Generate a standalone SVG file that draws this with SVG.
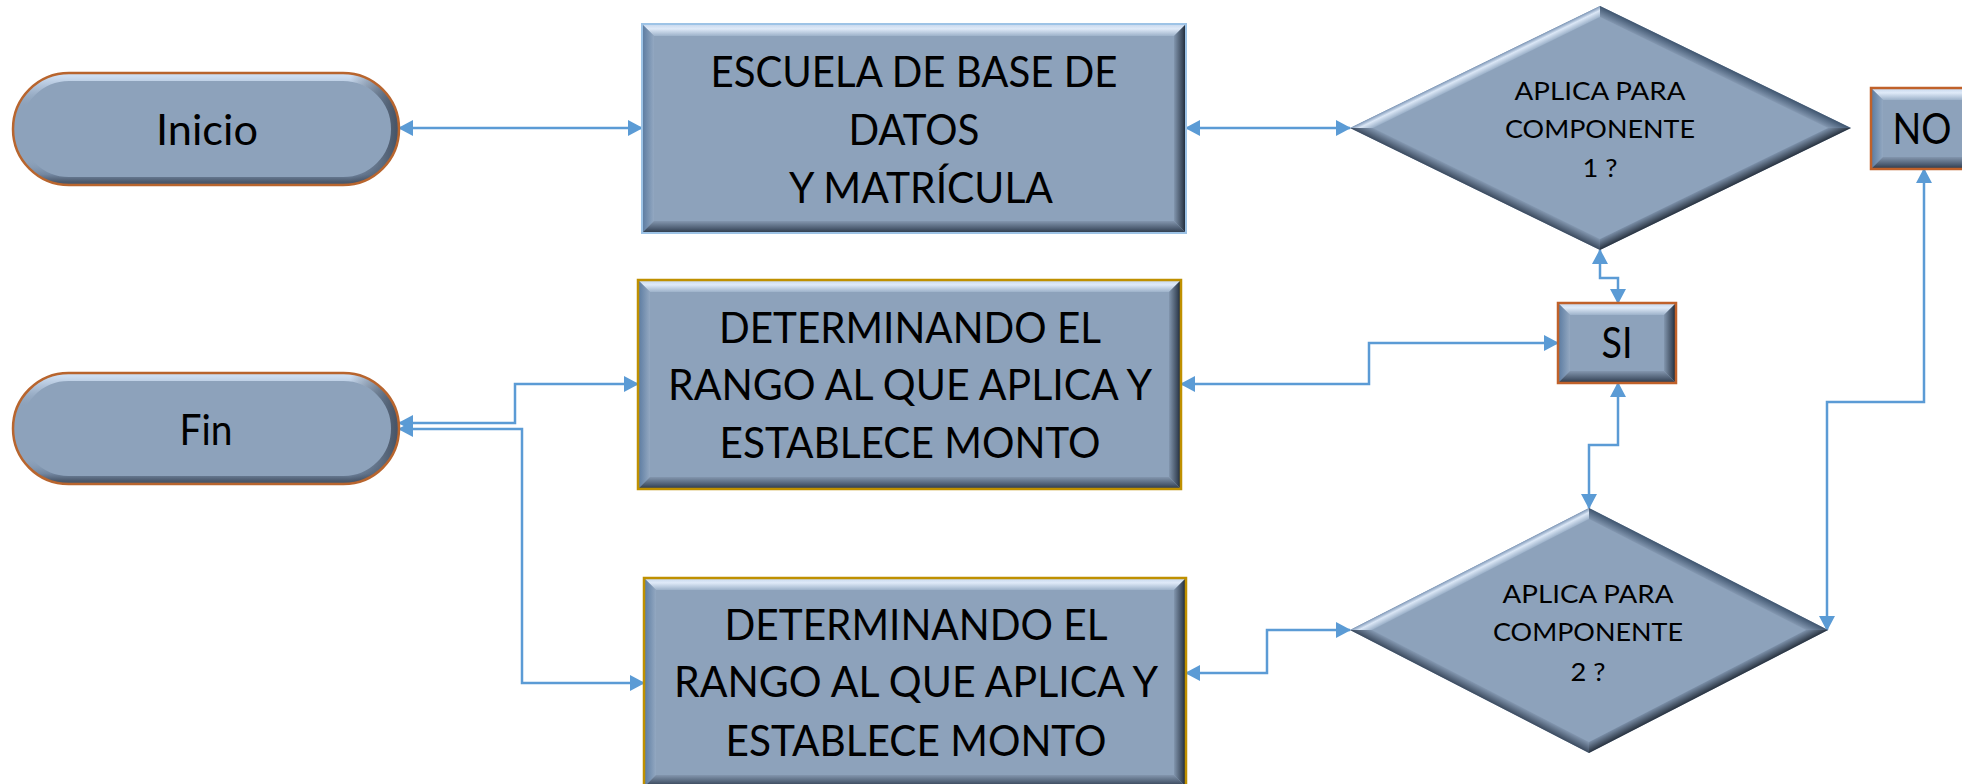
<svg xmlns="http://www.w3.org/2000/svg" width="1962" height="784" viewBox="0 0 1962 784">
<style>
.base{fill:#8DA2BB}
.t{font-family:Lato,"Open Sans",sans-serif;font-size:42px;fill:#000;text-anchor:middle}
.s{font-size:25px}
.c{fill:none;stroke:#5B9BD5;stroke-width:2.5;marker-start:url(#ah);marker-end:url(#ah)}
.ft{fill:url(#rTop)}.fl{fill:url(#rLeft)}.fr{fill:url(#rRight)}.fb{fill:url(#rBot)}
.dtl{fill:url(#dTL)}.dtr{fill:url(#dTR)}.dbr{fill:url(#dBR)}.dbl{fill:url(#dBL)}
.pillrim{fill:none;stroke:url(#pV);stroke-width:10}
.pillrim2{fill:none;stroke:url(#pH);stroke-width:10}
.bPill{fill:none;stroke:#B8652E;stroke-width:2.5}
.bGold{fill:none;stroke:#BF9000;stroke-width:2.5}
.bBlue{fill:none;stroke:#9DC3E6;stroke-width:2}
.bBrown{fill:none;stroke:#C0612A;stroke-width:2.5}
</style>
<defs>
<marker id="ah" viewBox="0 0 15 16" refX="14" refY="8" markerWidth="15" markerHeight="16" markerUnits="userSpaceOnUse" orient="auto-start-reverse">
<path d="M0,0 L15,8 L0,16 z" fill="#5B9BD5"/>
</marker>
<linearGradient id="rTop" x1="0" y1="0" x2="0" y2="1"><stop offset="0" stop-color="#c5d6ec"/><stop offset="0.4" stop-color="#dfeaf8"/><stop offset="1" stop-color="#9db2ca"/></linearGradient>
<linearGradient id="rLeft" x1="0" y1="0" x2="1" y2="0"><stop offset="0" stop-color="#5a7aa0"/><stop offset="1" stop-color="#93a8c1"/></linearGradient>
<linearGradient id="rRight" x1="1" y1="0" x2="0" y2="0"><stop offset="0" stop-color="#182230"/><stop offset="0.3" stop-color="#3c4a5c"/><stop offset="1" stop-color="#8296ae"/></linearGradient>
<linearGradient id="rBot" x1="0" y1="1" x2="0" y2="0"><stop offset="0" stop-color="#2b3646"/><stop offset="0.4" stop-color="#4f5f74"/><stop offset="1" stop-color="#8396ae"/></linearGradient>
<linearGradient id="dTL" x1="0.5" y1="0.5" x2="0.545" y2="0.545"><stop offset="0" stop-color="#7f98b8"/><stop offset="0.4" stop-color="#dbe7f6"/><stop offset="1" stop-color="#9db2ca"/></linearGradient>
<linearGradient id="dTR" x1="0.5" y1="0.5" x2="0.455" y2="0.545"><stop offset="0" stop-color="#3f556f"/><stop offset="1" stop-color="#8397b0"/></linearGradient>
<linearGradient id="dBR" x1="0.5" y1="0.5" x2="0.455" y2="0.455"><stop offset="0" stop-color="#28323f"/><stop offset="1" stop-color="#7a8ea7"/></linearGradient>
<linearGradient id="dBL" x1="0.5" y1="0.5" x2="0.545" y2="0.455"><stop offset="0" stop-color="#3b4a5e"/><stop offset="1" stop-color="#8397b0"/></linearGradient>
<linearGradient id="pV" x1="0" y1="0" x2="0" y2="1"><stop offset="0" stop-color="#cddef2"/><stop offset="0.12" stop-color="#a9bcd3"/><stop offset="0.3" stop-color="#8DA2BB" stop-opacity="0"/><stop offset="0.78" stop-color="#8DA2BB" stop-opacity="0"/><stop offset="0.93" stop-color="#7286a0"/><stop offset="1" stop-color="#4a586b"/></linearGradient>
<linearGradient id="pH" x1="0" y1="0" x2="1" y2="0"><stop offset="0" stop-color="#2a3545" stop-opacity="0"/><stop offset="0.88" stop-color="#2a3545" stop-opacity="0"/><stop offset="1" stop-color="#2a3545" stop-opacity="0.7"/></linearGradient>
<clipPath id="cpInicio"><rect x="13" y="73" width="386" height="112" rx="56"/></clipPath>
<clipPath id="cpFin"><rect x="13" y="373" width="386" height="111" rx="55.5"/></clipPath>
</defs>

<g id="connectors">
<path class="c" d="M399,128 H642"/>
<path class="c" d="M1186,128 H1350"/>
<path class="c" d="M1600,250 V278 H1618 V303"/>
<path class="c" d="M1181,384 H1369 V343 H1558"/>
<path class="c" d="M1618,383 V445 H1589 V508"/>
<path class="c" d="M1827,630 V402 H1924 V169"/>
<path class="c" d="M1186,673 H1267 V630 H1350"/>
<path class="c" d="M399,423 H515 V384 H638"/>
<path class="c" d="M399,429 H522 V683 H644"/>
</g>

<g id="inicio">
<rect class="base" x="13" y="73" width="386" height="112" rx="56"/>
<g clip-path="url(#cpInicio)">
<rect class="pillrim" x="16" y="76" width="380" height="106" rx="53"/>
<rect class="pillrim2" x="16" y="76" width="380" height="106" rx="53"/>
</g>
<rect class="bPill" x="13" y="73" width="386" height="112" rx="56"/>
<text class="t" x="207" y="145" textLength="102" lengthAdjust="spacingAndGlyphs">Inicio</text>
</g>

<g id="fin">
<rect class="base" x="13" y="373" width="386" height="111" rx="55.5"/>
<g clip-path="url(#cpFin)">
<rect class="pillrim" x="16" y="376" width="380" height="105" rx="52.5"/>
<rect class="pillrim2" x="16" y="376" width="380" height="105" rx="52.5"/>
</g>
<rect class="bPill" x="13" y="373" width="386" height="111" rx="55.5"/>
<text class="t" x="206" y="445" textLength="53" lengthAdjust="spacingAndGlyphs">Fin</text>
</g>

<g id="escuela">
<rect class="base" x="642" y="24" width="544" height="209"/>
<polygon class="ft" points="642,24 1186,24 1174,36 654,36"/>
<polygon class="fl" points="642,24 654,36 654,221 642,233"/>
<polygon class="fr" points="1186,24 1186,233 1174,221 1174,36"/>
<polygon class="fb" points="642,233 1186,233 1174,221 654,221"/>
<rect class="bBlue" x="642" y="24" width="544" height="209"/>
<text class="t" x="914" y="87" textLength="407" lengthAdjust="spacingAndGlyphs">ESCUELA DE BASE DE</text>
<text class="t" x="914" y="145" textLength="131" lengthAdjust="spacingAndGlyphs">DATOS</text>
<text class="t" x="921" y="203" textLength="264" lengthAdjust="spacingAndGlyphs">Y MATRÍCULA</text>
</g>

<g id="rango1">
<rect class="base" x="638" y="280" width="543" height="209"/>
<polygon class="ft" points="638,280 1181,280 1169,292 650,292"/>
<polygon class="fl" points="638,280 650,292 650,477 638,489"/>
<polygon class="fr" points="1181,280 1181,489 1169,477 1169,292"/>
<polygon class="fb" points="638,489 1181,489 1169,477 650,477"/>
<rect class="bGold" x="638" y="280" width="543" height="209"/>
<text class="t" x="910" y="343" textLength="382" lengthAdjust="spacingAndGlyphs">DETERMINANDO EL</text>
<text class="t" x="910" y="400" textLength="484" lengthAdjust="spacingAndGlyphs">RANGO AL QUE APLICA Y</text>
<text class="t" x="910" y="458" textLength="381" lengthAdjust="spacingAndGlyphs">ESTABLECE MONTO</text>
</g>

<g id="rango2">
<rect class="base" x="644" y="578" width="542" height="209"/>
<polygon class="ft" points="644,578 1186,578 1174,590 656,590"/>
<polygon class="fl" points="644,578 656,590 656,775 644,787"/>
<polygon class="fr" points="1186,578 1186,787 1174,775 1174,590"/>
<polygon class="fb" points="644,787 1186,787 1174,775 656,775"/>
<rect class="bGold" x="644" y="578" width="542" height="209"/>
<text class="t" x="916" y="640" textLength="383" lengthAdjust="spacingAndGlyphs">DETERMINANDO EL</text>
<text class="t" x="916" y="697" textLength="484" lengthAdjust="spacingAndGlyphs">RANGO AL QUE APLICA Y</text>
<text class="t" x="916" y="756" textLength="381" lengthAdjust="spacingAndGlyphs">ESTABLECE MONTO</text>
</g>

<g id="decision1">
<polygon class="base" points="1600,6 1851,128 1600,250 1350,128"/>
<polygon class="dtl" points="1350,128 1600,6 1600,17 1373,128"/>
<polygon class="dtr" points="1600,6 1851,128 1828,128 1600,17"/>
<polygon class="dbr" points="1851,128 1600,250 1600,239 1828,128"/>
<polygon class="dbl" points="1600,250 1350,128 1373,128 1600,239"/>
<text class="t s" x="1600" y="100" textLength="171" lengthAdjust="spacingAndGlyphs">APLICA PARA</text>
<text class="t s" x="1600" y="138" textLength="190" lengthAdjust="spacingAndGlyphs">COMPONENTE</text>
<text class="t s" x="1600" y="177" textLength="35" lengthAdjust="spacingAndGlyphs">1 ?</text>
</g>

<g id="decision2">
<polygon class="base" points="1589,508 1828,630 1589,753 1350,630"/>
<polygon class="dtl" points="1350,630 1589,508 1589,519 1372,630"/>
<polygon class="dtr" points="1589,508 1828,630 1806,630 1589,519"/>
<polygon class="dbr" points="1828,630 1589,753 1589,742 1806,630"/>
<polygon class="dbl" points="1589,753 1350,630 1372,630 1589,742"/>
<text class="t s" x="1588" y="603" textLength="171" lengthAdjust="spacingAndGlyphs">APLICA PARA</text>
<text class="t s" x="1588" y="641" textLength="190" lengthAdjust="spacingAndGlyphs">COMPONENTE</text>
<text class="t s" x="1588" y="681" textLength="35" lengthAdjust="spacingAndGlyphs">2 ?</text>
</g>

<g id="si">
<rect class="base" x="1558" y="303" width="118" height="80"/>
<polygon class="ft" points="1558,303 1676,303 1664,315 1570,315"/>
<polygon class="fl" points="1558,303 1570,315 1570,371 1558,383"/>
<polygon class="fr" points="1676,303 1676,383 1664,371 1664,315"/>
<polygon class="fb" points="1558,383 1676,383 1664,371 1570,371"/>
<rect class="bBrown" x="1558" y="303" width="118" height="80"/>
<text class="t" x="1617" y="358" textLength="31" lengthAdjust="spacingAndGlyphs">SI</text>
</g>

<g id="no">
<rect class="base" x="1871" y="88" width="114" height="81"/>
<polygon class="ft" points="1871,88 1985,88 1973,100 1883,100"/>
<polygon class="fl" points="1871,88 1883,100 1883,157 1871,169"/>
<polygon class="fr" points="1985,88 1985,169 1973,157 1973,100"/>
<polygon class="fb" points="1871,169 1985,169 1973,157 1883,157"/>
<rect class="bBrown" x="1871" y="88" width="114" height="81"/>
<text class="t" x="1922" y="144" textLength="59" lengthAdjust="spacingAndGlyphs">NO</text>
</g>
</svg>
